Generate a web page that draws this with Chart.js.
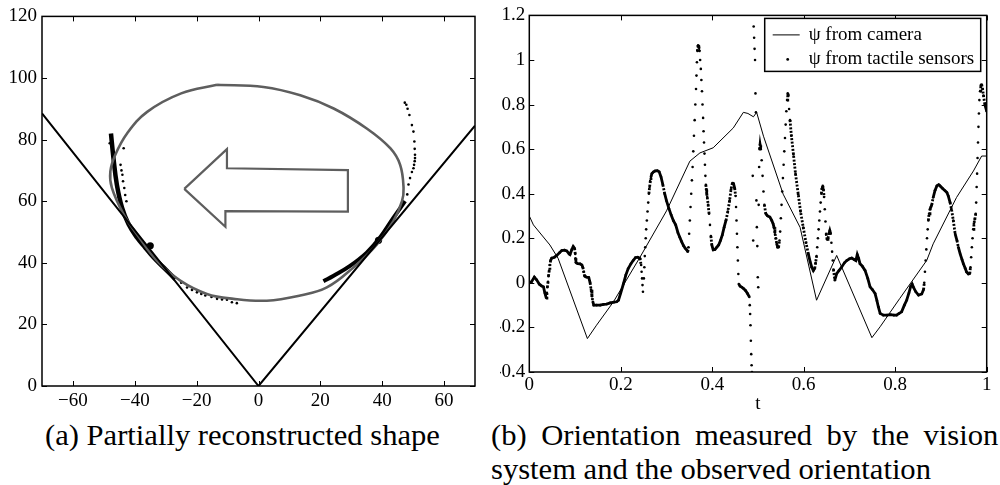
<!DOCTYPE html>
<html>
<head>
<meta charset="utf-8">
<script src="https://cdn.jsdelivr.net/npm/chart.js@4"></script>
<style>
  body { margin: 0; background: #fff; width: 1000px; height: 485px; position: relative; overflow: hidden; }
  canvas { position: absolute; top: 0; }
  #shape { left: 0; }
  #orient { left: 500px; }
  .cap { position: absolute; left: 0; top: 0; font-family: 'Liberation Serif', 'Times New Roman', serif; font-size: 29.5px; white-space: nowrap; transform-origin: 0 50%; line-height: 1; color: #000; }
</style>
</head>
<body>
<canvas id="shape" width="500" height="415"></canvas>
<canvas id="orient" width="500" height="415"></canvas>
<div class="cap" id="capA">(a) Partially reconstructed shape</div>
<div class="cap" id="capB1">(b) Orientation measured by the vision</div>
<div class="cap" id="capB2">system and the observed orientation</div>
<script>
// ---- (a) partially reconstructed shape ----
const shapeXTicks = [-60, -40, -20, 0, 20, 40, 60];
const shapeYTicks = [0, 20, 40, 60, 80, 100, 120];
const fingerLines = [[-70, 88.5], [0, 0], [70, 84.5]];
const objectOutline = [[-13.4, 97.8], [1.6, 97.1], [13.5, 94.4], [24.3, 90.1], [35, 83.6], [42.6, 77.2],
  [45.8, 71.8], [46.9, 64.3], [46.4, 60], [43.6, 53.5], [38.3, 46], [30.7, 38.5], [22.1, 32], [13.5, 29.4],
  [2.7, 27.7], [-8.1, 28.3], [-16.7, 29.9], [-25.3, 34.2], [-32.8, 40.6], [-39.3, 49.3], [-43.6, 55.7],
  [-47.4, 64.3], [-47.9, 69.7], [-46.3, 75.1], [-42.5, 82], [-36, 89], [-25, 95], [-13.4, 97.8]];
const arrowOutline = [[-24, 64], [-10.2, 76.9], [-10.2, 70.7], [28.9, 70.1], [28.9, 56.6], [-10.7, 56.8],
  [-10.7, 51.7], [-24, 64]];
const leftContact = [[-47.7, 82], [-46.9, 74], [-45.8, 65.4], [-44.1, 57.8], [-42, 52.5], [-39.3, 48.2],
  [-36.6, 44.9], [-33.9, 41.7], [-30.7, 38.5], [-26.9, 34.7]];
const rightContact = [[21, 34], [24.3, 35.8], [29.6, 39], [35, 43.3], [39.3, 48.2], [43.6, 54.6], [47.4, 60]];
const contactDots = [[-48.1, 78.8], [-43.6, 77.2], [-44.6, 71.8], [-44.3, 70], [-44, 68.6], [-43.8, 66.5],
  [-43.4, 64.3], [-43.1, 62], [-42.7, 60], [-25, 33.5], [-23.1, 32], [-21.5, 31.2], [-19.9, 30.4], [-18.5, 29.9],
  [-17.2, 29.4], [-15.2, 28.9], [-13.4, 28.3], [-11.8, 28.1], [-10.2, 28], [-8.6, 27.2], [-7, 26.9],
  [48.1, 62.2], [48.5, 65.4], [49, 67.5], [49.6, 69.5], [50.1, 70.7], [50.3, 71.8], [50.5, 73], [50.6, 74],
  [50.6, 75.1], [50.5, 77], [50.4, 79.4], [50.1, 82.6], [49.6, 84.7], [48.8, 88], [48.2, 90], [47.8, 91.3], [47.3, 92]];
const contactBlobs = [[-35, 45.5], [38.8, 47.3]];

// ---- (b) orientation ----
const orientXTicks = [0, 0.2, 0.4, 0.6, 0.8, 1];
const orientYTicks = [-0.4, -0.2, 0, 0.2, 0.4, 0.6, 0.8, 1, 1.2];
const cameraT = [0, 0.009, 0.045, 0.063, 0.127, 0.147, 0.184, 0.242, 0.300, 0.351, 0.373, 0.402, 0.446, 0.468,
  0.478, 0.490, 0.497, 0.512, 0.555, 0.592, 0.628, 0.672, 0.749, 0.767, 0.810, 0.869, 0.883, 0.934, 0.971, 0.989, 1.0];
const cameraPsi = [0.30, 0.26, 0.17, 0.11, -0.25, -0.19, -0.085, 0.115, 0.323, 0.546, 0.583, 0.606, 0.695, 0.765,
  0.76, 0.745, 0.765, 0.658, 0.398, 0.249, -0.078, 0.123, -0.246, -0.197, -0.07, 0.101, 0.175, 0.383, 0.502, 0.569, 0.569];
// tactile estimate, read dot by dot where the samples are spread out
const tactile = [
  [0.000, 0.000], [0.005, 0.005], [0.011, 0.026], [0.016, 0.014], [0.022, -0.006], [0.027, -0.014], [0.031, -0.018],
  [0.034, -0.045], [0.037, -0.068], [0.0385, -0.045], [0.0395, -0.02], [0.041, 0.005], [0.042, 0.03], [0.0435, 0.055],
  [0.045, 0.08], [0.0465, 0.10], [0.049, 0.111], [0.055, 0.115], [0.060, 0.123], [0.066, 0.135], [0.071, 0.145],
  [0.077, 0.147], [0.082, 0.143], [0.087, 0.13], [0.089, 0.127], [0.093, 0.15], [0.096, 0.163], [0.099, 0.155],
  [0.1005, 0.13], [0.101, 0.11], [0.102, 0.09], [0.106, 0.086], [0.111, 0.085], [0.115, 0.08], [0.117, 0.07],
  [0.119, 0.05], [0.121, 0.03], [0.125, 0.026], [0.130, 0.024], [0.133, 0.0], [0.135, -0.03], [0.137, -0.06],
  [0.139, -0.085], [0.141, -0.1], [0.147, -0.1], [0.155, -0.1], [0.162, -0.097], [0.169, -0.095], [0.177, -0.09],
  [0.185, -0.087], [0.191, -0.085], [0.195, -0.078], [0.200, -0.045], [0.206, -0.003], [0.211, 0.035], [0.216, 0.063],
  [0.222, 0.085], [0.227, 0.1], [0.232, 0.113], [0.237, 0.115], [0.242, 0.11], [0.2445, 0.08], [0.2455, 0.05],
  [0.2465, 0.02], [0.2475, -0.01], [0.2485, -0.04], [0.2505, 0.02], [0.2515, 0.07], [0.2525, 0.12], [0.2535, 0.16],
  [0.2545, 0.2], [0.2555, 0.24], [0.257, 0.28], [0.2585, 0.32], [0.260, 0.36], [0.2615, 0.40], [0.263, 0.43],
  [0.2645, 0.455], [0.266, 0.475], [0.268, 0.49], [0.271, 0.497], [0.275, 0.502], [0.280, 0.503], [0.284, 0.498],
  [0.288, 0.475], [0.292, 0.44], [0.296, 0.40], [0.300, 0.368], [0.305, 0.335], [0.310, 0.305], [0.315, 0.279],
  [0.320, 0.26], [0.325, 0.225], [0.329, 0.205], [0.333, 0.185], [0.337, 0.167], [0.341, 0.155], [0.344, 0.148],
  [0.3465, 0.14], [0.348, 0.16], [0.3495, 0.22], [0.351, 0.28], [0.3525, 0.34], [0.354, 0.40], [0.3555, 0.46],
  [0.357, 0.52], [0.3585, 0.59], [0.360, 0.66], [0.3615, 0.73], [0.363, 0.80], [0.3645, 0.87], [0.3655, 0.93],
  [0.3665, 0.99], [0.3675, 1.04], [0.369, 1.066], [0.3705, 1.06], [0.372, 1.04], [0.3735, 1.0], [0.375, 0.96],
  [0.3762, 0.91], [0.3775, 0.86], [0.3787, 0.80], [0.38, 0.74], [0.381, 0.68], [0.382, 0.63], [0.383, 0.58],
  [0.384, 0.53], [0.385, 0.48], [0.386, 0.44], [0.387, 0.42], [0.388, 0.40], [0.389, 0.385], [0.391, 0.35],
  [0.393, 0.31], [0.395, 0.26], [0.397, 0.21], [0.399, 0.17], [0.402, 0.148], [0.406, 0.15], [0.41, 0.16],
  [0.414, 0.17], [0.418, 0.19], [0.422, 0.215], [0.426, 0.25], [0.43, 0.28], [0.434, 0.32], [0.438, 0.37],
  [0.441, 0.42], [0.444, 0.448], [0.4465, 0.445], [0.449, 0.425], [0.451, 0.39], [0.452, 0.34], [0.453, 0.28],
  [0.454, 0.22], [0.455, 0.16], [0.456, 0.10], [0.457, 0.04], [0.458, -0.005], [0.461, -0.015], [0.465, -0.02],
  [0.469, -0.027], [0.473, -0.035], [0.477, -0.048], [0.481, -0.063], [0.482, -0.10], [0.4828, -0.14],
  [0.4836, -0.19], [0.4844, -0.26], [0.4852, -0.32], [0.486, -0.37], [0.4868, -0.40], [0.4885, 0.48],
  [0.4895, 0.19], [0.4905, 1.15], [0.4915, 1.10], [0.4925, 1.05], [0.4935, 1.0], [0.4945, 0.85], [0.4955, 0.765],
  [0.4965, 0.37], [0.4975, 0.25], [0.4985, 0.165], [0.4995, 0.025], [0.5005, -0.02], [0.5015, 0.35], [0.5025, 0.52],
  [0.5035, 0.6], [0.5045, 0.62], [0.506, 0.6], [0.508, 0.55], [0.510, 0.48], [0.512, 0.41], [0.514, 0.35],
  [0.517, 0.31], [0.521, 0.30], [0.526, 0.295], [0.530, 0.28], [0.533, 0.265], [0.535, 0.25], [0.537, 0.225],
  [0.539, 0.2], [0.541, 0.175], [0.543, 0.16], [0.545, 0.16], [0.547, 0.19], [0.5485, 0.23], [0.550, 0.29],
  [0.5515, 0.35], [0.553, 0.41], [0.5545, 0.47], [0.556, 0.53], [0.5575, 0.59], [0.559, 0.65], [0.5605, 0.71],
  [0.562, 0.77], [0.5635, 0.82], [0.565, 0.85], [0.5665, 0.84], [0.568, 0.78], [0.570, 0.73], [0.573, 0.66],
  [0.5775, 0.576], [0.582, 0.49], [0.588, 0.397], [0.593, 0.32], [0.599, 0.248], [0.605, 0.18], [0.610, 0.13],
  [0.614, 0.095], [0.6175, 0.07], [0.621, 0.055], [0.624, 0.065], [0.626, 0.09], [0.628, 0.12], [0.6295, 0.16],
  [0.631, 0.2], [0.6325, 0.24], [0.634, 0.28], [0.6355, 0.32], [0.637, 0.36], [0.6385, 0.40], [0.640, 0.425],
  [0.6415, 0.435], [0.643, 0.42], [0.6445, 0.385], [0.646, 0.33], [0.6475, 0.275], [0.649, 0.22], [0.651, 0.195],
  [0.653, 0.2], [0.655, 0.22], [0.657, 0.235], [0.659, 0.22], [0.6605, 0.18], [0.662, 0.14], [0.6635, 0.1],
  [0.665, 0.06], [0.668, 0.012], [0.672, 0.041], [0.677, 0.055], [0.683, 0.071], [0.689, 0.09], [0.694, 0.1],
  [0.700, 0.108], [0.705, 0.111], [0.710, 0.105], [0.714, 0.1], [0.717, 0.127], [0.720, 0.11], [0.723, 0.086],
  [0.728, 0.075], [0.734, 0.056], [0.740, 0.02], [0.745, -0.018], [0.750, -0.03], [0.756, -0.048], [0.760, -0.08],
  [0.763, -0.107], [0.767, -0.137], [0.774, -0.145], [0.782, -0.145], [0.790, -0.143], [0.797, -0.145],
  [0.803, -0.145], [0.808, -0.138], [0.814, -0.13], [0.820, -0.1], [0.825, -0.078], [0.830, -0.045], [0.834, -0.015],
  [0.837, -0.005], [0.840, -0.02], [0.845, -0.04], [0.851, -0.055], [0.858, -0.05], [0.862, -0.03], [0.8635, 0.0],
  [0.865, 0.05], [0.8665, 0.1], [0.868, 0.15], [0.8695, 0.2], [0.871, 0.24], [0.8725, 0.28], [0.874, 0.31],
  [0.876, 0.33], [0.878, 0.34], [0.880, 0.35], [0.883, 0.383], [0.887, 0.415], [0.891, 0.435], [0.895, 0.44],
  [0.898, 0.435], [0.903, 0.425], [0.909, 0.413], [0.913, 0.405], [0.916, 0.39], [0.920, 0.36], [0.923, 0.331],
  [0.927, 0.28], [0.931, 0.22], [0.935, 0.19], [0.938, 0.16], [0.942, 0.13], [0.946, 0.105], [0.949, 0.086],
  [0.953, 0.065], [0.956, 0.049], [0.960, 0.04], [0.963, 0.041], [0.9645, 0.07], [0.966, 0.115], [0.9675, 0.16],
  [0.969, 0.2], [0.9705, 0.24], [0.972, 0.265], [0.974, 0.285], [0.976, 0.31], [0.977, 0.36], [0.978, 0.43],
  [0.979, 0.49], [0.980, 0.56], [0.981, 0.63], [0.982, 0.70], [0.983, 0.76], [0.984, 0.82], [0.9855, 0.86],
  [0.987, 0.885], [0.989, 0.89], [0.991, 0.87], [0.993, 0.84], [0.996, 0.80], [1.0, 0.77]];

const FONT = { family: "'Liberation Serif', 'Times New Roman', serif", size: 19 };
const pts = arr => arr.map(p => ({ x: p[0], y: p[1] }));

function fixSize(size) {
  return scale => { if (scale.isHorizontal()) scale.height = size; else scale.width = size; };
}
function useTicks(values) {
  return scale => { scale.ticks = values.map(v => ({ value: v })); };
}

// matlab style box with inward ticks on all four sides
const boxTicks = {
  id: 'boxTicks',
  afterDatasetsDraw(chart) {
    const { ctx, chartArea: a, scales } = chart;
    ctx.save();
    ctx.strokeStyle = '#000';
    ctx.lineWidth = 1;
    ctx.beginPath();
    scales.x.ticks.forEach(t => {
      const x = Math.round(scales.x.getPixelForValue(t.value)) + 0.5;
      ctx.moveTo(x, a.bottom); ctx.lineTo(x, a.bottom - 5);
      ctx.moveTo(x, a.top); ctx.lineTo(x, a.top + 5);
    });
    scales.y.ticks.forEach(t => {
      const y = Math.round(scales.y.getPixelForValue(t.value)) + 0.5;
      ctx.moveTo(a.left, y); ctx.lineTo(a.left + 5, y);
      ctx.moveTo(a.right, y); ctx.lineTo(a.right - 5, y);
    });
    ctx.stroke();
    ctx.lineWidth = 1.5;
    ctx.strokeRect(a.left, a.top, a.right - a.left, a.bottom - a.top);
    ctx.restore();
  }
};

const legendBox = {
  id: 'legendBox',
  afterDraw(chart) {
    const { ctx, chartArea: a } = chart;
    const ds = chart.data.datasets;
    const x0 = a.right - 222, y0 = a.top + 3, w = 216, h = 53;
    ctx.save();
    ctx.fillStyle = '#fff';
    ctx.fillRect(x0, y0, w, h);
    ctx.strokeStyle = '#000';
    ctx.lineWidth = 1.5;
    ctx.strokeRect(x0, y0, w, h);
    ctx.lineWidth = 1;
    ctx.beginPath(); ctx.moveTo(x0 + 8, y0 + 16.5); ctx.lineTo(x0 + 35, y0 + 16.5); ctx.stroke();
    ctx.fillStyle = '#000';
    ctx.beginPath(); ctx.arc(x0 + 23, y0 + 41, 1.4, 0, 2 * Math.PI); ctx.fill();
    ctx.font = "19px 'Liberation Serif', 'Times New Roman', serif";
    ctx.textBaseline = 'middle';
    ctx.fillText(ds[0].label, x0 + 44, y0 + 17);
    ctx.fillText(ds[1].label, x0 + 44, y0 + 41);
    ctx.restore();
  }
};

function axis(min, max, ticks, size, pad, fmt) {
  return {
    type: 'linear', min: min, max: max,
    grid: { display: false, drawTicks: false },
    border: { display: false },
    afterBuildTicks: useTicks(ticks),
    afterFit: fixSize(size),
    ticks: { color: '#000', font: FONT, padding: pad, maxRotation: 0, autoSkip: false, callback: fmt }
  };
}
const minusFmt = v => (v < 0 ? '\u2212' + Math.abs(v) : String(v));
const plainFmt = v => String(v);

// left chart
const shapeX = axis(-70, 70, shapeXTicks, 29, 4, minusFmt);
const shapeY = axis(0, 120, shapeYTicks, 42, 5, plainFmt);
new Chart(document.getElementById('shape'), {
  type: 'scatter',
  data: {
    datasets: [
      { data: pts(fingerLines), showLine: true, borderColor: '#000', borderWidth: 2, pointRadius: 0 },
      { data: pts(objectOutline), showLine: true, borderColor: '#5e5e5e', borderWidth: 2.6, pointRadius: 0, tension: 0.4 },
      { data: pts(arrowOutline), showLine: true, borderColor: '#5e5e5e', borderWidth: 2.2, pointRadius: 0 },
      { data: pts(leftContact), showLine: true, borderColor: '#000', borderWidth: 4.5, pointRadius: 0, tension: 0.4 },
      { data: pts(rightContact), showLine: true, borderColor: '#000', borderWidth: 4, pointRadius: 0, tension: 0.4 },
      { data: pts(contactDots), showLine: false, backgroundColor: '#000', pointRadius: 1.3, pointBorderWidth: 0 },
      { data: pts(contactBlobs), showLine: false, backgroundColor: '#000', pointRadius: 3.6, pointBorderWidth: 0 }
    ]
  },
  options: {
    responsive: false, animation: false, devicePixelRatio: 1,
    layout: { padding: { top: 14, right: 25, left: 0, bottom: 0 } },
    plugins: { legend: { display: false }, tooltip: { enabled: false } },
    scales: { x: shapeX, y: shapeY }
  },
  plugins: [boxTicks]
});

// right chart: hide joins where samples are spread out, dash where moderately spread
function steep(ctx) {
  const dx = Math.abs(ctx.p1.x - ctx.p0.x), dy = Math.abs(ctx.p1.y - ctx.p0.y);
  return dy / Math.max(dx, 0.01);
}
const orientX = axis(0, 1, orientXTicks, 43, 2, plainFmt);
orientX.title = { display: true, text: 't', color: '#000', font: FONT, padding: { top: 0, bottom: 0 } };
const orientY = axis(-0.4, 1.2, orientYTicks, 29.3, 4, plainFmt);
new Chart(document.getElementById('orient'), {
  type: 'scatter',
  data: {
    datasets: [
      { label: '\u03c8 from camera', data: cameraT.map((t, i) => ({ x: t, y: cameraPsi[i] })),
        showLine: true, borderColor: '#000', borderWidth: 1, pointRadius: 0 },
      { label: '\u03c8 from tactile sensors', data: pts(tactile), showLine: true, borderColor: '#000',
        borderWidth: 2.8, pointRadius: 1.3, pointBorderWidth: 0, backgroundColor: '#000',
        segment: {
          borderColor: ctx => (steep(ctx) > 12 ? 'rgba(0,0,0,0)' : '#000'),
          borderDash: ctx => (steep(ctx) > 4.5 ? [2, 1.6] : [])
        } }
    ]
  },
  options: {
    responsive: false, animation: false, devicePixelRatio: 1,
    layout: { padding: { top: 13.3, right: 13.3, left: 0, bottom: 0 } },
    plugins: { legend: { display: false }, tooltip: { enabled: false } },
    scales: { x: orientX, y: orientY }
  },
  plugins: [boxTicks, legendBox]
});

// captions: one font for all lines; (a) sets the width scale, first line of (b) is justified
function place(el, left, baseline, s) {
  el.style.left = left + 'px';
  el.style.top = (baseline - 0.8375 * 29.5) + 'px';
  el.style.transform = 'scaleX(' + s + ')';
}
const capA = document.getElementById('capA');
const capB1 = document.getElementById('capB1');
const capB2 = document.getElementById('capB2');
const s = 395 / capA.offsetWidth;
place(capA, 45, 446, s);
place(capB2, 491, 480, s);
capB1.style.wordSpacing = ((507 / s - capB1.offsetWidth) / 5) + 'px';
place(capB1, 491, 446, s);
</script>
</body>
</html>
